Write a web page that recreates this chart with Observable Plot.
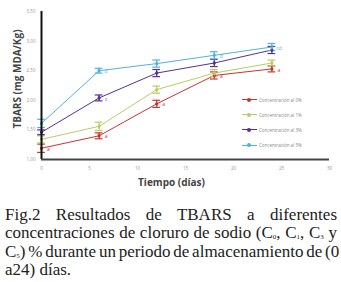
<!DOCTYPE html>
<html><head><meta charset="utf-8">
<script src="https://cdn.jsdelivr.net/npm/d3@7"></script>
<script src="https://cdn.jsdelivr.net/npm/@observablehq/plot@0.6"></script>
<style>
body{margin:0;background:#fff;width:341px;}
#wrap{position:relative;width:341px;height:190px;}
#legend{position:absolute;left:242px;top:92px;font:4.5px "Open Sans",sans-serif;color:#888;}
#legend div{height:15.2px;display:flex;align-items:center;}
#legend span.l{display:inline-block;width:15px;height:1px;position:relative;margin-right:2px;}
#legend span.l i{position:absolute;left:5px;top:-1.5px;width:4px;height:4px;border-radius:50%;}
#cap{font:17px "Liberation Serif",serif;line-height:18.3px;width:332px;margin:16px 0 0 5px;color:#222;}
#cap div{white-space:nowrap;text-align:justify;text-align-last:justify;word-spacing:-1.5px;height:18.3px;overflow:visible;}
#cap div.last{text-align-last:left;word-spacing:0;}
#cap sub{font-size:7px;vertical-align:baseline;position:relative;top:1px;line-height:0;}
</style></head><body>
<div id="wrap"><div id="legend"></div></div>
<div id="cap">
<div>Fig.2 Resultados de TBARS a diferentes</div>
<div>concentraciones de cloruro de sodio (C<sub>0</sub>, C<sub>1</sub>, C<sub>3</sub> y</div>
<div>C<sub>5</sub>) % durante un periodo de almacenamiento de (0</div>
<div class="last">a24) días.</div>
</div>
<script>
const days = [0, 6, 12, 18, 24];
const seriesNames = ["Concentración al 0%", "Concentración al 1%", "Concentración al 3%", "Concentración al 5%"];
const colors = ["#c8352e", "#b9cd62", "#55309a", "#4fb3dc"];
const c0 = [1.19, 1.40, 1.94, 2.42, 2.53];
const c1 = [1.34, 1.56, 2.18, 2.46, 2.63];
const c3 = [1.46, 2.04, 2.46, 2.63, 2.85];
const c5 = [1.61, 2.50, 2.62, 2.76, 2.90];
const e0 = [0.07, 0.05, 0.06, 0.06, 0.05];
const e1 = [0.06, 0.07, 0.06, 0.06, 0.05];
const e2 = [0.04, 0.05, 0.06, 0.06, 0.06];
const e3 = [0.07, 0.04, 0.06, 0.06, 0.06];
const letters0 = ["a", "a", "a", "a", "a"];
const letters1 = ["", "", "", "", ""];
const letters2 = ["", "c", "", "", ""];
const letters3 = ["", "d", "", "d", "cd"];
const yTicks = [1, 1.5, 2, 2.5, 3, 3.5];
const xTicks = [0, 5, 10, 15, 20, 25, 30];

const vals = [c0, c1, c3, c5], errs = [e0, e1, e2, e3], lets = [letters0, letters1, letters2, letters3];
const data = [];
vals.forEach((arr, s) => arr.forEach((v, i) => data.push({s: seriesNames[s], t: days[i], v, e: errs[s][i], lab: lets[s][i]})));
const fmt = d => d.toFixed(2).replace(".", ",");

const plot = Plot.plot({
  width: 341, height: 190,
  marginLeft: 41, marginRight: 12, marginTop: 11, marginBottom: 31,
  style: {fontFamily: "'Open Sans', sans-serif", background: "transparent"},
  x: {domain: [0, 30], label: null},
  y: {domain: [1, 3.5], label: null},
  color: {domain: seriesNames, range: colors},
  marks: [
    Plot.axisX({ticks: xTicks, tickSize: 0, tickPadding: 7, fontSize: 4.5, fill: "#999", tickFormat: d => d, label: null}),
    Plot.axisY({ticks: yTicks, tickSize: 0, tickPadding: 6, fontSize: 4.5, fill: "#999", tickFormat: fmt, label: null}),
    Plot.line(data, {x: "t", y: "v", z: "s", stroke: "s", strokeWidth: 1}),
    Plot.ruleX(data, {x: "t", y1: d => d.v - d.e, y2: d => d.v + d.e, stroke: "s", strokeWidth: 1}),
    Plot.ruleY(data, {x1: d => d.t - 0.4, x2: d => d.t + 0.4, y: d => d.v + d.e, stroke: "s", strokeWidth: 1.2}),
    Plot.ruleY(data, {x1: d => d.t - 0.4, x2: d => d.t + 0.4, y: d => d.v - d.e, stroke: "s", strokeWidth: 1.2}),
    Plot.dot(data, {x: "t", y: "v", fill: "s", r: 1.8, symbol: "diamond"}),
    Plot.text(data, {x: "t", y: "v", text: "lab", fill: "s", dx: 7, dy: 1, fontSize: 5}),
    Plot.ruleX([0], {stroke: "#111", strokeWidth: 2}),
    Plot.ruleY([1], {stroke: "#444", strokeWidth: 2}),
    Plot.text(["Tiempo (días)"], {frameAnchor: "bottom", dy: 26, dx: -14, fontSize: 10, fontWeight: "bold", fill: "#444"}),
    Plot.text(["TBARS (mg MDA/Kg)"], {frameAnchor: "left", textAnchor: "middle", dx: -24, dy: -6.5, rotate: -90, fontSize: 10, fontWeight: "bold", fill: "#444"})
  ]
});
document.getElementById("wrap").prepend(plot);
const leg = document.getElementById("legend");
seriesNames.forEach((n, i) => {
  const d = document.createElement("div");
  d.innerHTML = `<span class="l" style="background:${colors[i]}"><i style="background:${colors[i]}"></i></span>${n}`;
  leg.appendChild(d);
});
</script></body></html>
